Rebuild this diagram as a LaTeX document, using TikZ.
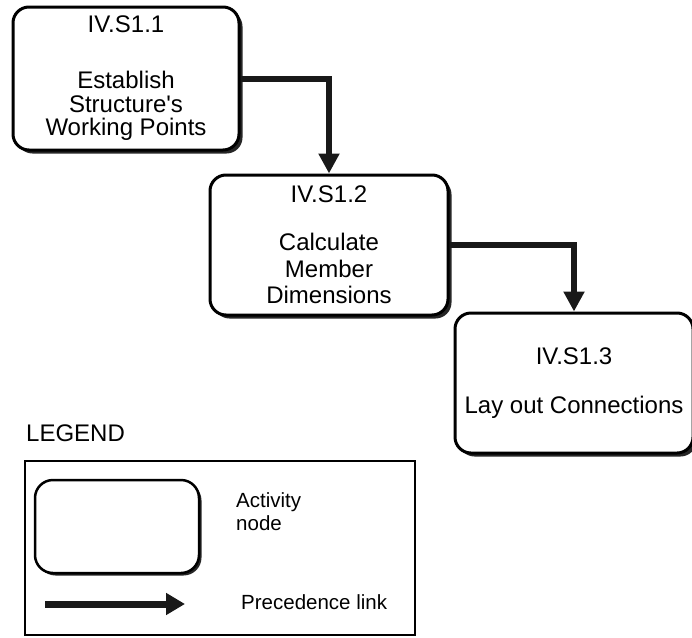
\documentclass[tikz,border=0pt]{standalone}
\usepackage{fontspec}
\setmainfont{Liberation Sans}
\usetikzlibrary{arrows.meta,shadows}
\begin{document}
\begin{tikzpicture}[x=1pt,y=-1pt,
  boxshadow/.style={drop shadow={shadow xshift=3.5pt,shadow yshift=-3.5pt,fill=black!85,opacity=1}},
  activity/.style={draw,line width=3pt,rounded corners=16pt,fill=white,align=center,
    inner sep=0pt,font=\fontsize{24}{23.5}\selectfont,boxshadow},
  link/.style={line width=6pt,draw=black!90,line join=miter,
    -{Triangle[length=20pt,width=20pt]}},
  legendtext/.style={anchor=west,align=left,inner sep=0pt,font=\fontsize{20.5}{23}\selectfont}]
\useasboundingbox (0,0) rectangle (692,637);

% activity nodes
\node[activity,minimum width=226pt,minimum height=143pt] (s11) at (126,78.5)
  {IV.S1.1\\[32.5pt]Establish\\Structure\textquotesingle s\\Working Points};
\node[activity,minimum width=238pt,minimum height=140pt] (s12) at (329,245)
  {IV.S1.2\\[24.5pt]Calculate\\[3pt]Member\\[3pt]Dimensions};
\node[activity,minimum width=238pt,minimum height=140pt] (s13) at (574,383)
  {IV.S1.3\\[26pt]Lay out Connections};

% precedence links
\draw[link] (s11.east) -| (s12.north);
\draw[link] (s12.east) -| (s13.north);

% legend
\node[anchor=west,inner sep=0pt,font=\fontsize{24}{24}\selectfont] (legendtitle) at (26,433) {LEGEND};
\node[draw,line width=2pt,minimum width=390pt,minimum height=174pt,inner sep=0pt] (legendframe) at (220,548) {};
\node[draw,line width=2.5pt,rounded corners=18pt,fill=white,minimum width=164pt,minimum height=93pt,
  inner sep=0pt,drop shadow={shadow xshift=2.5pt,shadow yshift=-2.5pt,fill=black!85,opacity=1}] (sample) at (117,526.5) {};
\node[legendtext] (sampletext) at (236,511.5) {Activity\\node};
\coordinate (linkfrom) at (45,604);
\coordinate (linkto) at (185,604);
\draw[line width=7pt,draw=black!90,-{Triangle[length=19pt,width=21pt]}] (linkfrom) -- (linkto);
\node[legendtext] (linktext) at (241,602) {Precedence link};
\end{tikzpicture}
\end{document}
